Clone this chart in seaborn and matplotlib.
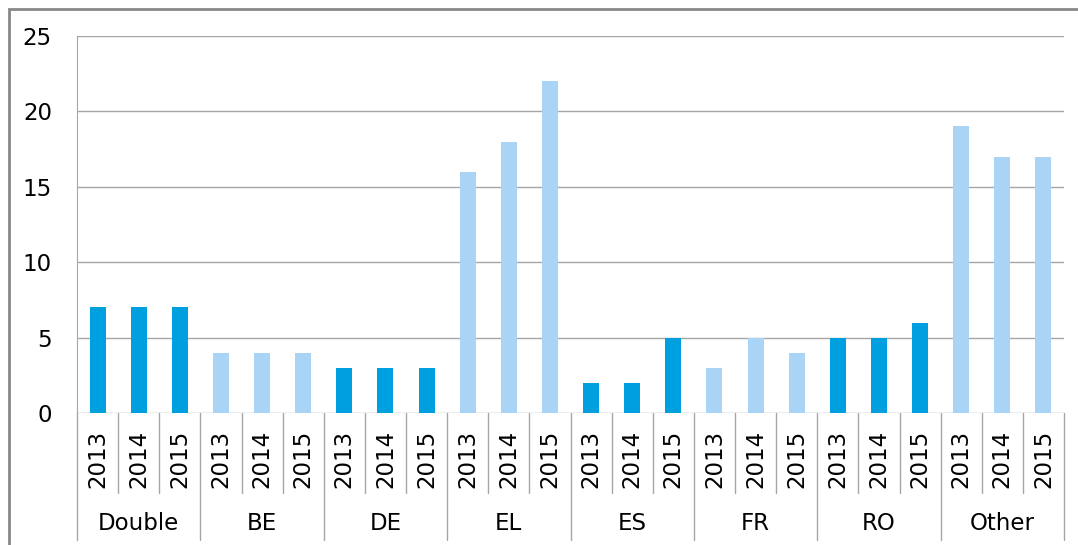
import pandas as pd
import numpy as np
import matplotlib.pyplot as plt
import seaborn as sns
from matplotlib.patches import Rectangle
import matplotlib.transforms as mtransforms

# Данные
groups = ['Double', 'BE', 'DE', 'EL', 'ES', 'FR', 'RO', 'Other']
years = ['2013', '2014', '2015']
values = {
    'Double': [7, 7, 7],
    'BE': [4, 4, 4],
    'DE': [3, 3, 3],
    'EL': [16, 18, 22],
    'ES': [2, 2, 5],
    'FR': [3, 5, 4],
    'RO': [5, 5, 6],
    'Other': [19, 17, 17],
}
dark = '#009FE0'
light = '#A9D4F5'
group_colors = [dark, light, dark, light, dark, light, dark, light]

rows = []
for g, c in zip(groups, group_colors):
    for y, v in zip(years, values[g]):
        rows.append({'slot': f'{g} {y}', 'group': g, 'year': y, 'value': v, 'color': c})
df = pd.DataFrame(rows)
palette = dict(zip(df['slot'], df['color']))

sns.set_style('white')
plt.rcParams['font.family'] = ['DejaVu Sans']
plt.rcParams['text.color'] = 'black'
plt.rcParams['xtick.color'] = 'black'
plt.rcParams['ytick.color'] = 'black'
grid_c = '#A6A6A6'
fs = 16.5

fig = plt.figure(figsize=(10.78, 5.45), dpi=100)
ax = fig.add_axes([77 / 1078, 1 - 413 / 545, (1064 - 77) / 1078, (413 - 36) / 545])

sns.barplot(data=df, x='slot', y='value', hue='slot', palette=palette,
            legend=False, width=0.39, saturation=1, linewidth=0, edgecolor='none',
            ax=ax, zorder=3)

ax.set_ylim(0, 25)
ax.set_yticks(range(0, 26, 5))
ax.set_xlim(-0.5, len(df) - 0.5)
ax.yaxis.grid(True, color=grid_c, linewidth=1)
ax.set_axisbelow(True)
for s in ['top', 'right', 'bottom']:
    ax.spines[s].set_visible(False)
ax.spines['left'].set_color(grid_c)
ax.tick_params(axis='y', length=6, color=grid_c, labelsize=fs, pad=12, labelcolor='black')
ax.set_xticks(range(len(df)))
ax.set_xticklabels(df['year'], rotation=90, fontsize=fs, color='black')
ax.tick_params(axis='x', length=0, pad=12)
ax.set_xlabel('')
ax.set_ylabel('')

# Разделители и подписи групп
trans = mtransforms.blended_transform_factory(ax.transData, ax.transAxes)
for i in range(len(df) + 1):
    x = i - 0.5
    y_end = -0.337 if i % 3 == 0 else -0.212
    ax.plot([x, x], [0, y_end], color=grid_c, lw=1, transform=trans, clip_on=False)
for k, g in enumerate(groups):
    ax.text(3 * k + 1, -0.292, g, transform=trans, ha='center', va='center',
            fontsize=fs, color='black')

# Рамка
fig.patches.append(Rectangle((9 / 1078, -0.5), 2, 0.5 + 1 - 9 / 545, transform=fig.transFigure,
                             fill=False, edgecolor='#888888', lw=2))

fig.savefig('out.png', dpi=100)
